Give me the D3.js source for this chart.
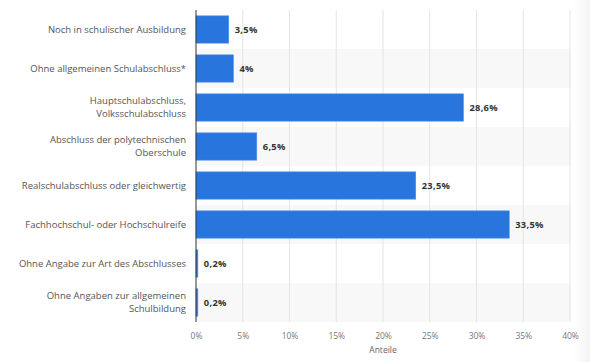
<!DOCTYPE html>
<html lang="de">
<head>
<meta charset="UTF-8">
<title>Schulabschluss</title>
<script src="https://d3js.org/d3.v7.min.js"></script>
<style>
  html, body { margin: 0; padding: 0; background: #fff; }
  svg { display: block; font-family: "Open Sans", "DejaVu Sans", sans-serif; }
</style>
</head>
<body>
<svg id="chart" width="590" height="362"></svg>
<script>
// Kategorien (Zeilenumbrüche wie im Original)
const categories = [
  ["Noch in schulischer Ausbildung"],
  ["Ohne allgemeinen Schulabschluss*"],
  ["Hauptschulabschluss,", "Volksschulabschluss"],
  ["Abschluss der polytechnischen", "Oberschule"],
  ["Realschulabschluss oder gleichwertig"],
  ["Fachhochschul- oder Hochschulreife"],
  ["Ohne Angabe zur Art des Abschlusses"],
  ["Ohne Angaben zur allgemeinen", "Schulbildung"]
];
const values = [3.5, 4, 28.6, 6.5, 23.5, 33.5, 0.2, 0.2];
const valueLabels = ["3,5%", "4%", "28,6%", "6,5%", "23,5%", "33,5%", "0,2%", "0,2%"];
const xTicks = [0, 5, 10, 15, 20, 25, 30, 35, 40];
const axisTitle = "Anteile";

const svg = d3.select("#chart");
const plotL = 196, plotR = 570, plotT = 10, plotB = 322;

// leichter Schatten am rechten Rand
const defs = svg.append("defs");
const grad = defs.append("linearGradient").attr("id", "shade");
grad.append("stop").attr("offset", "0%").attr("stop-color", "#ffffff");
grad.append("stop").attr("offset", "100%").attr("stop-color", "#f3f3f3");
svg.append("rect").attr("x", 574).attr("y", 0).attr("width", 16).attr("height", 362).attr("fill", "url(#shade)");

const x = d3.scaleLinear().domain([0, 40]).range([plotL, plotR]);
const y = d3.scaleBand().domain(d3.range(categories.length)).range([plotT, plotB]).paddingInner(0.3).paddingOuter(0.15);
const rowH = (plotB - plotT) / categories.length;

// gestreifte Zeilen
svg.append("g").selectAll("rect").data(d3.range(categories.length).filter(i => i % 2 === 1)).enter()
  .append("rect")
  .attr("x", plotL).attr("y", i => plotT + i * rowH)
  .attr("width", plotR - plotL).attr("height", rowH)
  .attr("fill", "#f8f8f8");

// Gitterlinien
svg.append("g").selectAll("line").data(xTicks.slice(1)).enter().append("line")
  .attr("x1", d => x(d)).attr("x2", d => x(d))
  .attr("y1", plotT).attr("y2", plotB)
  .attr("stroke", "#e4e4e4").attr("stroke-width", 1);

// Balken
svg.append("g").selectAll("rect").data(values).enter().append("rect")
  .attr("x", x(0)).attr("y", (d, i) => y(i))
  .attr("width", d => x(d) - x(0)).attr("height", y.bandwidth())
  .attr("fill", "#2876dd").attr("stroke", "#4a8ee6").attr("stroke-width", 0.6);

// Wertbeschriftungen
svg.append("g").selectAll("text").data(values).enter().append("text")
  .attr("x", d => x(d) + 6).attr("y", (d, i) => y(i) + y.bandwidth() / 2)
  .attr("dy", "0.35em")
  .attr("font-size", 9.3).attr("font-weight", "bold").attr("fill", "#333")
  .attr("letter-spacing", 0.3)
  .text((d, i) => valueLabels[i]);

// Kategoriebeschriftungen
const lab = svg.append("g").selectAll("text").data(categories).enter().append("text")
  .attr("text-anchor", "end").attr("font-size", 9.5).attr("fill", "#555")
  .attr("y", (d, i) => y(i) + y.bandwidth() / 2);
lab.each(function(lines) {
  const t = d3.select(this);
  const off = -(lines.length - 1) * 6.5;
  lines.forEach((l, j) => {
    t.append("tspan").attr("x", 186).attr("dy", j === 0 ? (off + 3.3) : 13).text(l);
  });
});

// Achse bei 0
svg.append("line").attr("x1", x(0)).attr("x2", x(0)).attr("y1", plotT).attr("y2", plotB)
  .attr("stroke", "#333").attr("stroke-width", 1);

// x-Achse
const xAxis = svg.append("g").attr("transform", `translate(0,${plotB})`)
  .call(d3.axisBottom(x).tickValues(xTicks).tickFormat(d => d + "%").tickSize(0).tickPadding(11));
xAxis.select(".domain").remove();
xAxis.selectAll("text").attr("font-size", 8.5).attr("fill", "#777").attr("font-family", "Open Sans, DejaVu Sans, sans-serif");

svg.append("text").attr("x", (plotL + plotR) / 2).attr("y", 353)
  .attr("text-anchor", "middle").attr("font-size", 8.5).attr("fill", "#666")
  .text(axisTitle);
</script>
</body>
</html>
